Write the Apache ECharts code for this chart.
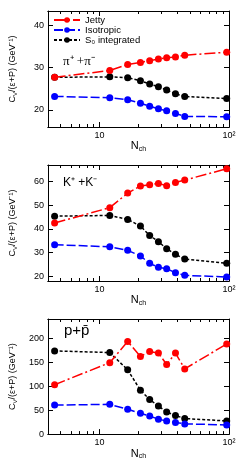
<!DOCTYPE html>
<html><head><meta charset="utf-8">
<script src="https://cdn.jsdelivr.net/npm/echarts@6/dist/echarts.min.js"></script>
<style>html,body{margin:0;padding:0;background:#fff}#c{width:244px;height:461px}</style>
</head><body><div id="c"></div>
<script>
const nch = [4.5, 12, 16.5, 20.7, 24.4, 28.5, 33, 38.6, 45.5, 96];
const piJetty = [27.7, 29.3, 30.7, 31.2, 31.6, 32.0, 32.3, 32.5, 32.9, 33.6];
const piIso   = [23.2, 22.9, 22.4, 21.6, 20.9, 20.3, 19.8, 19.2, 18.5, 18.4];
const piS0    = [27.7, 27.8, 27.6, 26.9, 26.1, 25.5, 24.7, 23.8, 23.2, 22.7];
const kJetty  = [42.5, 49.0, 55.2, 58.2, 58.7, 59.3, 58.3, 59.7, 60.7, 65.5];
const kIso    = [33.3, 32.4, 30.9, 28.5, 25.4, 23.7, 23.1, 21.4, 20.3, 19.6];
const kS0     = [45.4, 45.7, 44.0, 41.2, 37.2, 34.6, 31.6, 29.2, 27.2, 25.4];
const pJetty  = [103, 149, 193, 162, 172, 169, 145, 169, 136, 188];
const pIso    = [60.6, 62, 51.7, 43.4, 37.8, 31, 27.5, 24.2, 21.3, 19.2];
const pS0     = [173.5, 170, 134, 91.5, 72, 58.5, 46, 39, 32.4, 27.5];
const xMajor = [10, 100];
const xMinor = [5, 6, 7, 8, 9, 20, 30, 40, 50, 60, 70, 80, 90];
const yTicks = [[20, 30, 40], [20, 30, 40, 50, 60], [0, 50, 100, 150, 200]];
const yRanges = [[16, 43.3], [17.9, 67.1], [0, 240]];
const seriesNames = ['Jetty', 'Isotropic', 'S\u2080 integrated'];
const panelData = [[piJetty, piIso, piS0], [kJetty, kIso, kS0], [pJetty, pIso, pS0]];
const panelLabels = ['\u03c0\u207a +\u03c0\u207b', 'K\u207a +K\u207b', 'p+p\u0304'];

const FONT = 'Liberation Sans';
const tops = [11, 165, 319];
const H = 116;
const grids = [], xAxes = [], yAxes = [], series = [];
const colors = ['#ff0000', '#0000ff', '#000000'];
const dashes = [[11, 3, 2, 3], [9, 3], [3, 2]];

tops.forEach((t, i) => {
  grids.push({left: 45, right: 15, top: t, height: H});
  const base = {type: 'log', logBase: 10, min: 4, max: 100, gridIndex: i,
    axisLine: {show: true, lineStyle: {color: '#000', width: 1}}, splitLine: {show: false}};
  xAxes.push(Object.assign({}, base, {position: 'bottom',
    axisTick: {inside: true, length: 5, customValues: xMajor, lineStyle: {color: '#000'}},
    axisLabel: {customValues: xMajor, margin: 4, fontSize: 9, fontFamily: FONT, color: '#000',
      formatter: v => (Math.round(v) === 100 ? '10\u00b2' : '10')},
    name: '{a|N}{s|ch}', nameLocation: 'middle', nameGap: 11,
    nameTextStyle: {rich: {a: {fontSize: 11, fontFamily: FONT, color: '#000'},
      s: {fontSize: 7, fontFamily: FONT, color: '#000', verticalAlign: 'bottom', padding: [6, 0, 0, 0]}}}}));
  xAxes.push(Object.assign({}, base, {position: 'bottom',
    axisTick: {inside: true, length: 3, customValues: xMinor, lineStyle: {color: '#000'}},
    axisLabel: {show: false}}));
  xAxes.push(Object.assign({}, base, {position: 'top',
    axisTick: {inside: true, length: 5, customValues: xMajor, lineStyle: {color: '#000'}},
    axisLabel: {show: false}}));
  xAxes.push(Object.assign({}, base, {position: 'top',
    axisTick: {inside: true, length: 3, customValues: xMinor, lineStyle: {color: '#000'}},
    axisLabel: {show: false}}));
  const ybase = {type: 'value', min: yRanges[i][0], max: yRanges[i][1], gridIndex: i,
    axisLine: {show: true, lineStyle: {color: '#000', width: 1}}, splitLine: {show: false}};
  yAxes.push(Object.assign({}, ybase, {position: 'left',
    axisTick: {inside: true, length: 5, customValues: yTicks[i], lineStyle: {color: '#000'}},
    axisLabel: {customValues: yTicks[i], margin: 4, fontSize: 9, fontFamily: FONT, color: '#000'},
    name: '{a|C}{s|V}{a|/(\u03b5+P) (GeV\u207b\u00b9)}', nameLocation: 'middle', nameGap: 30, nameRotate: 90,
    nameTextStyle: {rich: {a: {fontSize: 9, fontFamily: FONT, color: '#000'},
      s: {fontSize: 6, fontFamily: FONT, color: '#000', verticalAlign: 'bottom', padding: [5, 0, 0, 0]}}}}));
  yAxes.push(Object.assign({}, ybase, {position: 'right',
    axisTick: {inside: true, length: 5, customValues: yTicks[i], lineStyle: {color: '#000'}},
    axisLabel: {show: false}}));
  panelData[i].forEach((arr, k) => {
    series.push({type: 'line', name: seriesNames[k], xAxisIndex: i * 4, yAxisIndex: i * 2,
      data: nch.map((x, j) => [x, arr[j]]), symbol: 'circle', symbolSize: 7,
      itemStyle: {color: colors[k]}, lineStyle: {color: colors[k], width: 1.5, type: dashes[k]},
      z: 3 - k + 2});
  });
});

const chart = echarts.init(document.getElementById('c'), null, {renderer: 'canvas'});
chart.setOption({
  animation: false,
  backgroundColor: '#fff',
  grid: grids, xAxis: xAxes, yAxis: yAxes, series: series,
  legend: {show: true, left: 53, top: 15, orient: 'vertical', itemWidth: 26, itemHeight: 7, itemGap: 0,
    padding: 0, data: seriesNames,
    textStyle: {fontSize: 9.5, lineHeight: 10, fontFamily: FONT, color: '#000'}},
  graphic: [
    {type: 'text', left: 63, top: 55, style: {text: panelLabels[0], fontSize: 13, fontFamily: 'Liberation Serif', fill: '#000'}},
    {type: 'text', left: 63, top: 177, style: {text: panelLabels[1], fontSize: 12, fontFamily: FONT, fill: '#000'}},
    {type: 'text', left: 64, top: 323, style: {text: panelLabels[2], fontSize: 15, fontFamily: FONT, fill: '#000'}}
  ]
});
</script></body></html>
